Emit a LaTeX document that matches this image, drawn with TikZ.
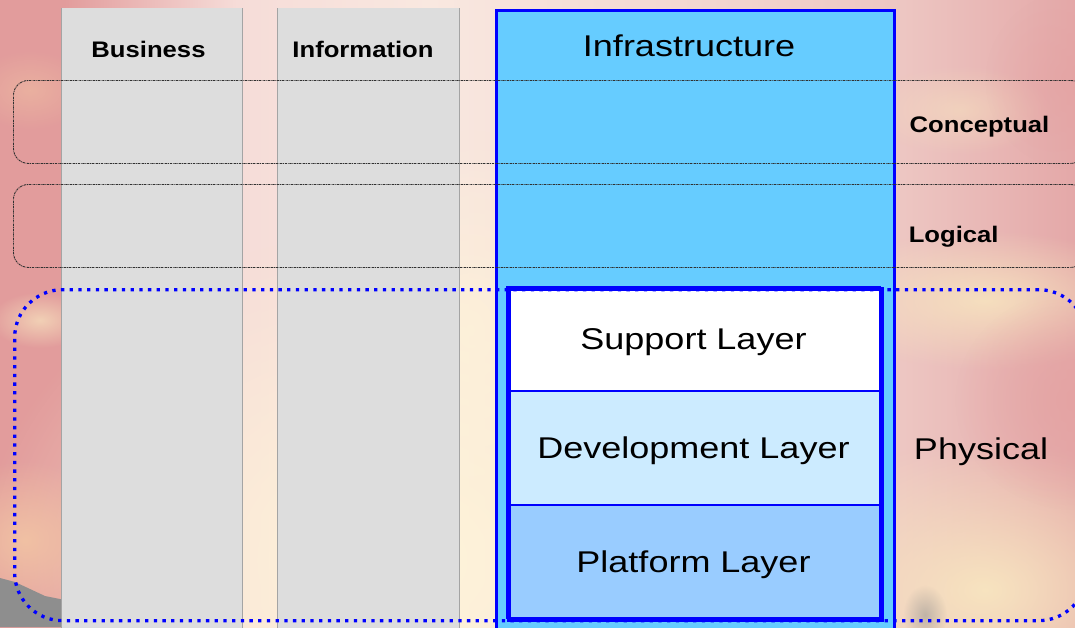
\documentclass[tikz,border=0pt]{standalone}
\usepackage{fontspec}
\setmainfont{Liberation Sans}
\newfontfamily\bigfont[FakeStretch=1.2]{Liberation Sans}
\newfontfamily\tagfont[FakeStretch=1.14]{Liberation Sans}
\usetikzlibrary{fadings}

% sky colours
\definecolor{skyA}{HTML}{E29C9C}
\definecolor{skyB}{HTML}{EAB0AC}
\definecolor{skyC}{HTML}{F6DCD8}
\definecolor{skyD}{HTML}{F9E8E0}
\definecolor{skyE}{HTML}{F3D6D0}
\definecolor{skyF}{HTML}{EDC6C2}
\definecolor{skyG}{HTML}{E4A8A8}
\definecolor{cream}{HTML}{FFF5D8}
\definecolor{creamdeep}{HTML}{F8E6C0}
\definecolor{rosy}{HTML}{E4A2A2}
\definecolor{peach}{HTML}{F2C4A4}
\definecolor{hill}{HTML}{8E8E8E}
% diagram colours
\definecolor{colgray}{HTML}{DDDDDD}
\definecolor{colline}{HTML}{A4A4A4}
\definecolor{infrablue}{HTML}{66CCFF}
\definecolor{pureblue}{HTML}{0000FF}
\definecolor{devblue}{HTML}{CCEBFF}
\definecolor{platblue}{HTML}{99CCFF}
\definecolor{dotgray}{HTML}{303030}

\pgfdeclarehorizontalshading{skyband}{100bp}{color(0bp)=(skyA); color(25bp)=(skyA);
  color(28bp)=(skyA); color(36bp)=(skyC); color(45bp)=(skyD); color(58bp)=(skyE);
  color(67bp)=(skyF); color(75bp)=(skyG); color(100bp)=(skyG)}
\tikzfading[name=softspot, inner color=transparent!0, outer color=transparent!100]

\tikzset{
  spot/.style={fill=#1, path fading=softspot},
  graycol/.style={fill=colgray, draw=none, inner sep=0pt, anchor=north west},
  sideline/.style={draw=colline, line width=0.9pt},
  infracol/.style={fill=infrablue, draw=pureblue, line width=2.5pt, inner sep=0pt, anchor=north west},
  layerbox/.style={draw=pureblue, line width=2.5pt, inner sep=0pt, minimum width=373pt,
    font=\bigfont\fontsize{30}{36}\selectfont, text height=21.5pt, text depth=0pt},
  stackframe/.style={draw=pureblue, line width=4pt, inner sep=0pt, anchor=north west},
  bandline/.style={draw=dotgray, line width=0.9pt, rounded corners=15pt, inner sep=0pt,
    anchor=north west, dash pattern=on 2.2pt off 0.8pt on 0.8pt off 0.8pt},
  physband/.style={draw=pureblue, line width=3.3pt, rounded corners=48pt, inner sep=0pt,
    anchor=north west, dash pattern=on 3.3pt off 5.4pt},
  bigtext/.style={font=\bigfont\fontsize{30}{36}\selectfont, inner sep=0pt,
    text height=21.5pt, text depth=0pt},
  smalltext/.style={font=\tagfont\bfseries\fontsize{22.5}{27}\selectfont, inner sep=0pt,
    text height=16.1pt, text depth=0pt},
}

\begin{document}
\begin{tikzpicture}[x=1pt,y=-1pt]
\useasboundingbox (0,0) rectangle (1075,627);
\clip (0,0) rectangle (1075,627);

% sunset sky
\fill[shading=skyband] (0,0) rectangle (1075,627);
\fill[spot=cream, fill opacity=0.95] (400,560) ellipse [x radius=420, y radius=330];
\fill[spot=cream, fill opacity=0.6] (470,330) ellipse [x radius=140, y radius=200];
\fill[spot=creamdeep, fill opacity=0.85] (985,300) ellipse [x radius=170, y radius=70];
\fill[spot=creamdeep, fill opacity=0.95] (985,590) ellipse [x radius=220, y radius=150];
\fill[spot=creamdeep, fill opacity=0.5] (960,110) ellipse [x radius=90, y radius=45];
\fill[spot=rosy, fill opacity=0.8] (1075,400) ellipse [x radius=120, y radius=110];
\fill[spot=rosy, fill opacity=0.6] (1075,80) ellipse [x radius=90, y radius=90];
\fill[spot=peach, fill opacity=0.9] (25,540) ellipse [x radius=90, y radius=80];
\fill[spot=creamdeep, fill opacity=0.7] (40,320) ellipse [x radius=50, y radius=28];
\fill[spot=peach, fill opacity=0.5] (30,90) ellipse [x radius=60, y radius=40];
\fill[hill] (0,578) -- (15,582) -- (30,589) -- (45,596) -- (70,601) -- (70,627) -- (0,627) -- cycle;
\fill[spot=hill, fill opacity=0.5] (925,615) ellipse [x radius=22, y radius=30];

% viewpoint columns
\node[graycol, minimum width=181pt, minimum height=640pt] (business) at (61,8) {};
\node[graycol, minimum width=182pt, minimum height=640pt] (information) at (277,8) {};
\foreach \c in {business, information} {
  \draw[sideline] (\c.north west) -- (\c.south west);
  \draw[sideline] (\c.north east) -- (\c.south east);
}
\node[infracol, minimum width=398pt, minimum height=640pt] (infra) at (495,9) {};

\node[smalltext] (businesstitle) at (148.5,49.7) {Business};
\node[smalltext] (informationtitle) at (363,49.7) {Information};
\node[bigtext] (infratitle) at (689,46) {Infrastructure};

% physical layer stack
\node[layerbox, fill=white, minimum height=104pt] (support) at (693.5,339) {Support Layer};
\node[layerbox, fill=devblue, minimum height=114pt] (development) at (693.5,448) {Development Layer};
\node[layerbox, fill=platblue, minimum height=113pt] (platform) at (693.5,561.5) {Platform Layer};
\node[stackframe, minimum width=373pt, minimum height=331pt] (stack) at (507,287) {};

% abstraction levels
\node[bandline, minimum width=1072pt, minimum height=83pt] (conceptual) at (13,80) {};
\node[bandline, minimum width=1072pt, minimum height=83pt] (logical) at (13,184) {};
\node[physband, minimum width=1072pt, minimum height=331pt] (physical) at (13,288) {};

\node[smalltext] (conceptualtitle) at (979.5,124) {Conceptual};
\node[smalltext] (logicaltitle) at (953.7,234.7) {Logical};
\node[bigtext] (physicaltitle) at (981,449) {Physical};
\end{tikzpicture}
\end{document}
